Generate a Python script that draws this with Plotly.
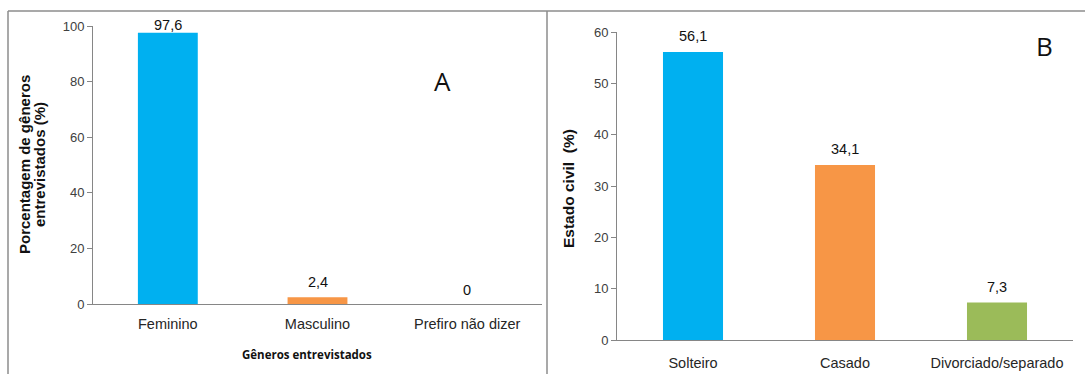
import plotly.graph_objects as go

# Panel A: gender of respondents
generos = ["Feminino", "Masculino", "Prefiro não dizer"]
generos_pct = [97.6, 2.4, 0]
generos_txt = ["97,6", "2,4", "0"]

# Panel B: marital status
estado = ["Solteiro", "Casado", "Divorciado/separado"]
estado_pct = [56.1, 34.1, 7.3]
estado_txt = ["56,1", "34,1", "7,3"]

ticks_a = [0, 20, 40, 60, 80, 100]
ticks_b = [0, 10, 20, 30, 40, 50, 60]

W, H = 1085, 374
cores_a = ["#00B0F0", "#F79646", "#9BBB59"]
cores_b = ["#00B0F0", "#F79646", "#9BBB59"]
AXIS = "#868686"
TXT = "#404040"
FONT = "Liberation Sans"


def px(x):
    return x / W


def py(y):
    return 1 - y / H


fig = go.Figure()
fig.add_trace(go.Bar(x=generos, y=generos_pct, marker=dict(color=cores_a, line=dict(width=0)),
                     xaxis="x", yaxis="y", width=0.4, hoverinfo="x+y"))
fig.add_trace(go.Bar(x=estado, y=estado_pct, marker=dict(color=cores_b, line=dict(width=0)),
                     xaxis="x2", yaxis="y2", width=0.395, hoverinfo="x+y"))

axis_common = dict(showline=True, linecolor=AXIS, linewidth=1, showgrid=False, zeroline=False,
                   automargin=False, fixedrange=True)
ytick_font = dict(family=FONT, size=13, color=TXT)
xtick_font = dict(family=FONT, size=14.5, color="#262626")

fig.update_layout(
    width=W, height=H, margin=dict(l=0, r=0, t=0, b=0, autoexpand=False),
    paper_bgcolor="white", plot_bgcolor="white", showlegend=False,
    xaxis=dict(domain=[px(93), px(542)], anchor="y", ticks="", ticklabelstandoff=7,
               tickfont=xtick_font, **axis_common),
    yaxis=dict(domain=[py(304), py(26)], anchor="x", range=[0, 100], tickvals=ticks_a,
               ticks="outside", ticklen=5, tickcolor=AXIS, tickfont=ytick_font, **axis_common),
    xaxis2=dict(domain=[px(617), px(1073)], anchor="y2", ticks="", ticklabelstandoff=10,
                tickfont=xtick_font, **axis_common),
    yaxis2=dict(domain=[py(340), py(32)], anchor="x2", range=[0, 60], tickvals=ticks_b,
                ticks="outside", ticklen=5, tickcolor=AXIS, tickfont=ytick_font, **axis_common),
)

ann = []
shift_a = [8, 15, 14]
for c, v, t, s in zip(generos, generos_pct, generos_txt, shift_a):
    ann.append(dict(x=c, y=v, xref="x", yref="y", text=t, showarrow=False,
                    xanchor="center", yanchor="middle",
                    yshift=s, font=dict(family=FONT, size=14.5, color="#111111")))
for c, v, t in zip(estado, estado_pct, estado_txt):
    ann.append(dict(x=c, y=v, xref="x2", yref="y2", text=t, showarrow=False,
                    xanchor="center", yanchor="middle",
                    yshift=16, font=dict(family=FONT, size=14.5, color="#111111")))

TITLE_FONT = dict(family=FONT, size=15, color="#111111")
labels = [
    dict(x=px(24), y=py(165), textangle=-90,
         text="<b>Porcentagem de gêneros</b>", font=TITLE_FONT),
    dict(x=px(39), y=py(165), textangle=-90,
         text="<b>entrevistados (%)</b>", font=TITLE_FONT),
    dict(x=px(307), y=py(354),
         text="<b>Gêneros entrevistados</b>", font=dict(family="Open Sans", size=11.5, color="#111111")),
    dict(x=px(568), y=py(189), textangle=-90,
         text="<b>Estado civil&nbsp;&nbsp;(%)</b>", font=dict(family=FONT, size=15.5, color="#111111")),
    dict(x=px(442), y=py(81),
         text="A", font=dict(family="Open Sans", size=26, color="#111111")),
    dict(x=px(1044), y=py(46),
         text="B", font=dict(family="Open Sans", size=26, color="#111111")),
]
for a in labels:
    a.update(xref="paper", yref="paper", showarrow=False, xanchor="center", yanchor="middle")
ann += labels
fig.update_layout(annotations=ann)

# Panel frames
BORDER = dict(color="#8c8c8c", width=1.5)
fig.update_layout(shapes=[
    dict(type="line", xref="paper", yref="paper", x0=px(8), x1=px(8), y0=py(11), y1=py(380), line=BORDER),
    dict(type="line", xref="paper", yref="paper", x0=px(8), x1=px(1090), y0=py(11), y1=py(11), line=BORDER),
    dict(type="line", xref="paper", yref="paper", x0=px(547), x1=px(547), y0=py(11), y1=py(380), line=BORDER),
])

fig.write_html("out.html")
